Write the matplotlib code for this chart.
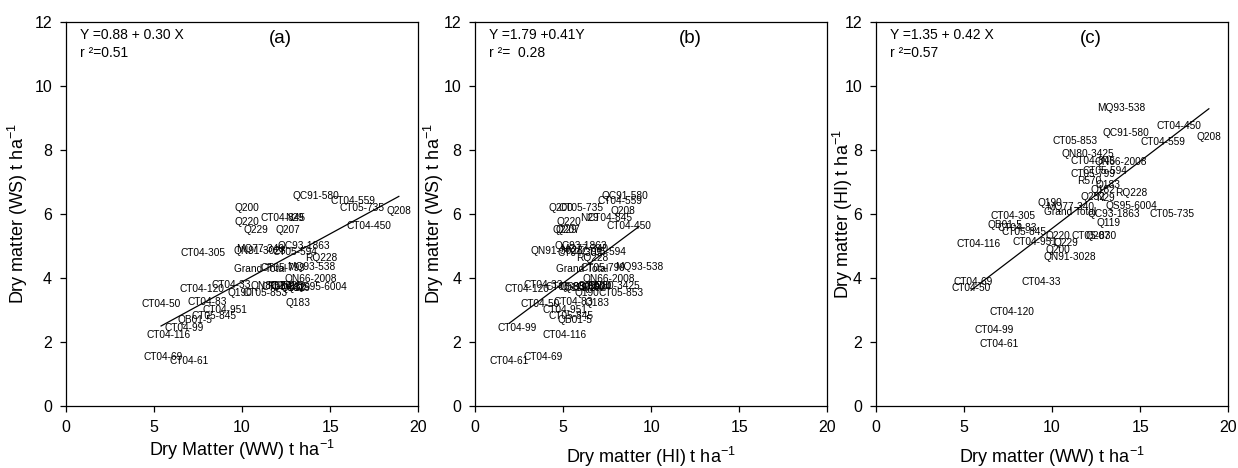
import numpy as np
import matplotlib
matplotlib.use("Agg")
import matplotlib.pyplot as plt

plt.rcParams['font.family'] = ['Liberation Sans', 'DejaVu Sans']

# genotype labels and dry matter (t/ha) under three water regimes
genotypes = ['QC91-580', 'CT04-559', 'CT05-735', 'CT04-450', 'Q208', 'Q200',
             'CT04-845', 'N29', 'Q220', 'Q229', 'Q207', 'CT04-305',
             'QN91-3028', 'MQ77-340', 'QC93-1863', 'CT05-594', 'RQ228',
             'MQ93-538', 'Grand Total', 'CT05-799', 'QN66-2008', 'QS95-6004',
             'CT04-33', 'CT04-120', 'QN80-3425', 'CT05-830', 'Q190',
             'CT05-853', 'CT04-50', 'CT04-83', 'Q183', 'CT04-951', 'CT05-845',
             'QB01-5', 'CT04-99', 'CT04-116', 'CT04-69', 'CT04-61', 'R570',
             'Q182', 'Q252', 'Q119']
ww = [14.2, 16.3, 16.8, 17.2, 18.9, 10.3,
      12.3, 13.0, 10.3, 10.8, 12.6, 7.8,
      11.0, 11.0, 13.5, 13.0, 14.5,
      13.9, 11.0, 12.3, 13.9, 14.5,
      9.4, 7.7, 12.0, 12.4, 9.9,
      11.3, 5.4, 8.0, 13.2, 9.0, 8.4,
      7.3, 6.7, 5.8, 5.5, 7.0, 12.1,
      12.9, 12.3, 13.2]
ws = [6.56, 6.40, 6.19, 5.63, 6.10, 6.19,
      5.87, 5.87, 5.75, 5.50, 5.50, 4.78,
      4.84, 4.90, 5.00, 4.81, 4.62,
      4.34, 4.28, 4.30, 3.97, 3.72,
      3.78, 3.66, 3.75, 3.72, 3.53,
      3.53, 3.19, 3.25, 3.22, 3.00, 2.82,
      2.68, 2.44, 2.22, 1.53, 1.42, 3.75,
      3.70, 3.75, 3.70]
hi = [8.53, 8.25, 6.00, 8.75, 8.40, 4.88,
      7.66, 6.50, 5.31, 5.09, 5.30, 5.94,
      4.66, 6.22, 6.00, 7.34, 6.65,
      9.31, 6.06, 7.25, 7.62, 6.25,
      3.88, 2.94, 7.87, 5.31, 6.35,
      8.28, 3.69, 5.56, 6.90, 5.12, 5.44,
      5.66, 2.37, 5.06, 3.88, 1.95, 7.03,
      6.75, 6.53, 5.72]

# regression coefficients (intercept, slope) for each panel
fits = [(0.88, 0.30), (1.79, 0.41), (1.35, 0.42)]
eq_texts = ['Y =0.88 + 0.30 X', 'Y =1.79 +0.41Y', 'Y =1.35 + 0.42 X']
r2_texts = ['r \u00b2=0.51', 'r \u00b2=  0.28', 'r \u00b2=0.57']
panel_tags = ['(a)', '(b)', '(c)']
xlabels = ['Dry Matter (WW) t ha$^{\\mathregular{-1}}$',
           'Dry matter (HI) t ha$^{\\mathregular{-1}}$',
           'Dry matter (WW) t ha$^{\\mathregular{-1}}$']
ylabels = ['Dry matter (WS) t ha$^{\\mathregular{-1}}$',
           'Dry matter (WS) t ha$^{\\mathregular{-1}}$',
           'Dry matter (HI) t ha$^{\\mathregular{-1}}$']
xpads = [2, 7, 7]
ypads = [3, -2, -8]

pairs = [(ww, ws), (hi, ws), (ww, hi)]

fig = plt.figure(figsize=(12.38, 4.68), dpi=100)
lefts = [0.0533, 0.3837, 0.7076]

for i in range(3):
    ax = fig.add_axes([lefts[i], 0.1325, 0.2845, 0.8205])
    xs, ys = pairs[i]
    xs = np.array(xs)
    ys = np.array(ys)
    for name, x, y in zip(genotypes, xs, ys):
        ax.text(x, y, name, fontsize=7.3, ha='center', va='center')
    a, b = fits[i]
    xline = np.array([xs.min(), xs.max()])
    ax.plot(xline, a + b * xline, color='black', lw=0.9)

    ax.set_xlim(0, 20)
    ax.set_ylim(0, 12)
    ax.set_xticks([0, 5, 10, 15, 20])
    ax.set_yticks([0, 2, 4, 6, 8, 10, 12])
    ax.tick_params(direction='out', length=4, width=0.9, labelsize=11.5,
                   top=False, right=False, pad=6)
    for sp in ax.spines.values():
        sp.set_linewidth(0.9)
    ax.set_xlabel(xlabels[i], fontsize=13, labelpad=xpads[i])
    ax.set_ylabel(ylabels[i], fontsize=13, labelpad=ypads[i])

    ax.text(0.04, 0.966, eq_texts[i], transform=ax.transAxes, fontsize=10,
            va='center', ha='left')
    ax.text(0.04, 0.919, r2_texts[i], transform=ax.transAxes, fontsize=10,
            va='center', ha='left')
    ax.text(0.61, 0.958, panel_tags[i], transform=ax.transAxes, fontsize=13.5,
            va='center', ha='center')

fig.savefig('out.png', dpi=100)
